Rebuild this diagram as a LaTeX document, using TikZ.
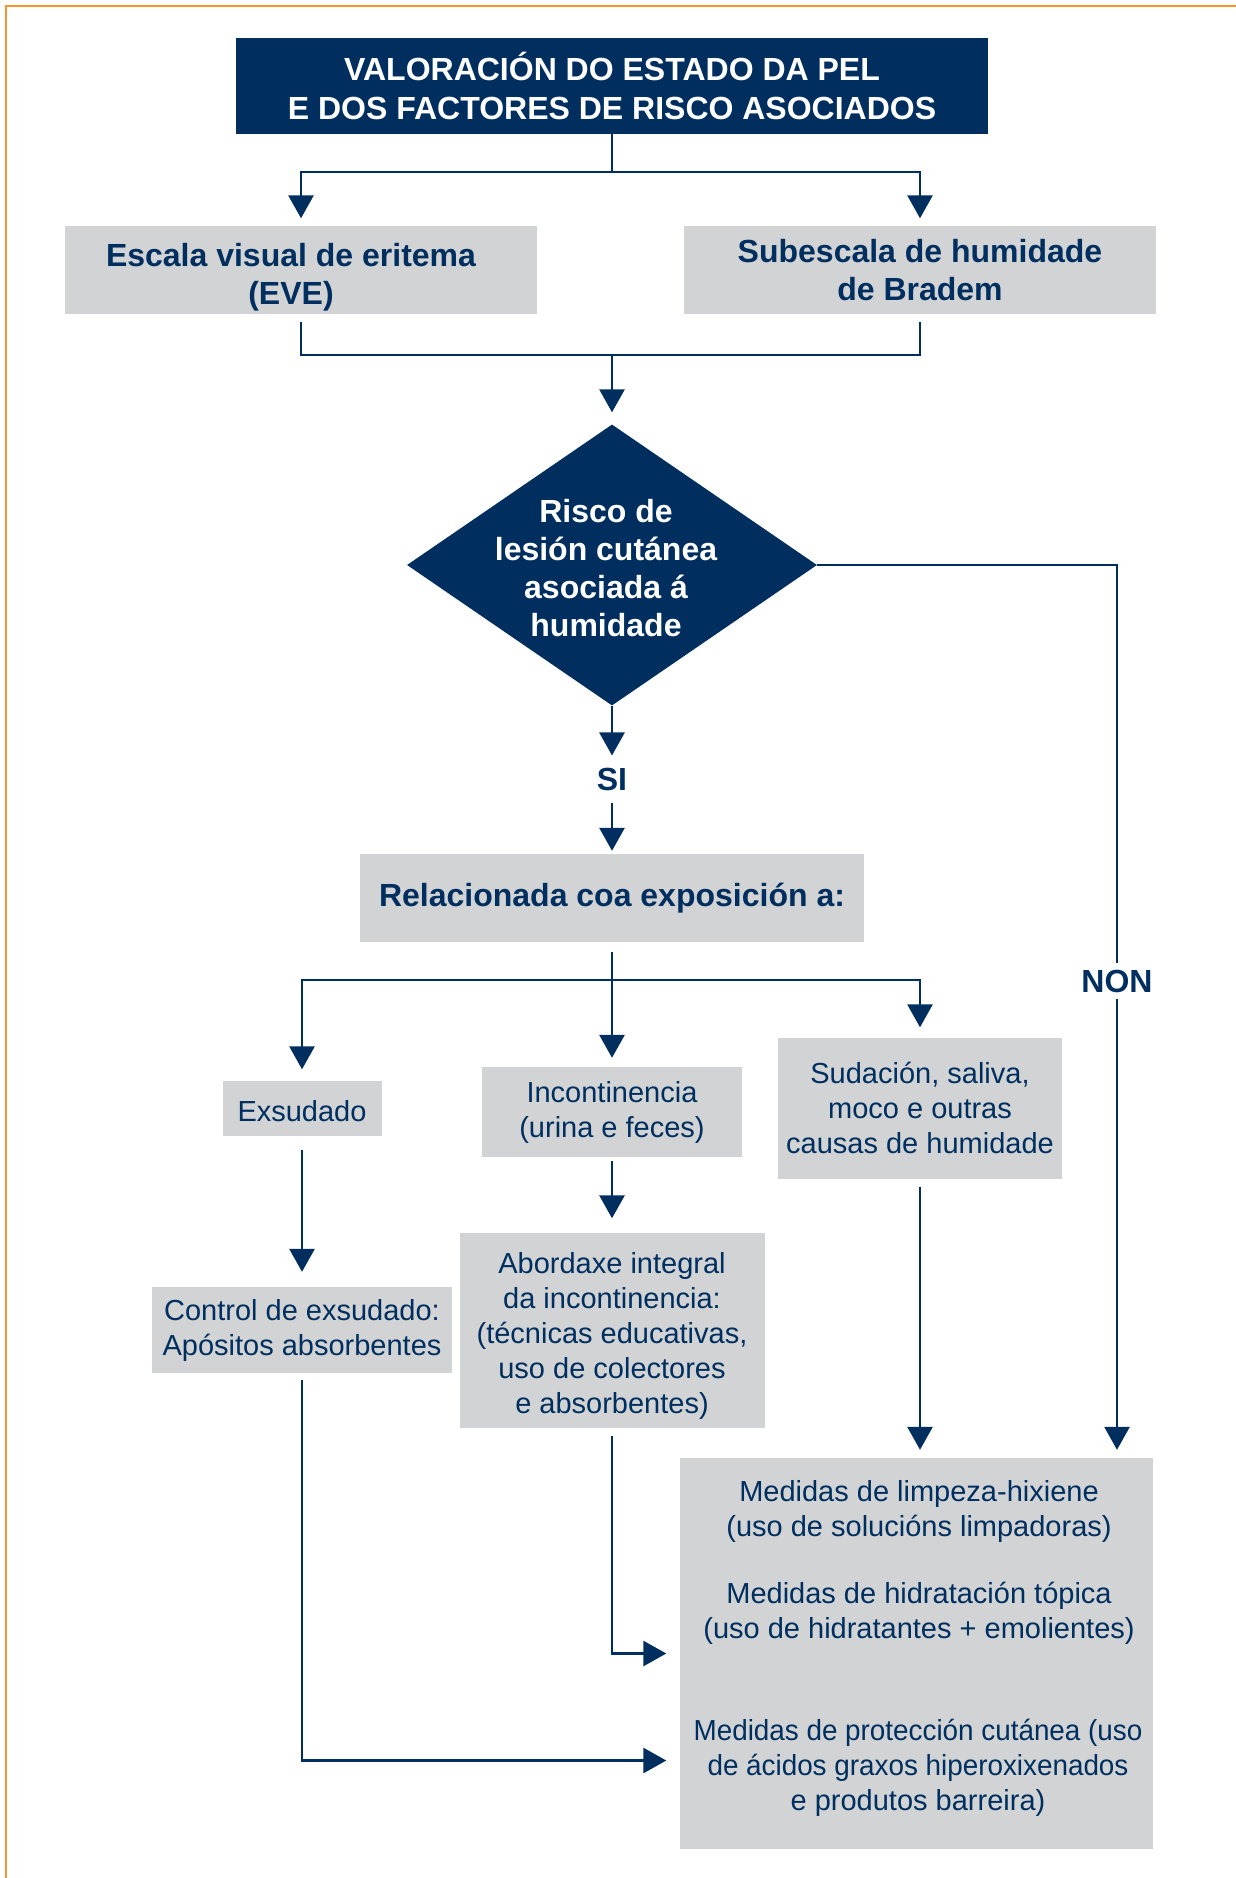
\documentclass[tikz,border=0pt]{standalone}
\usepackage{fontspec}
\setmainfont{Liberation Sans}
\newfontfamily\narrowfont{Liberation Sans}[FakeStretch=0.96]
\usetikzlibrary{arrows.meta,positioning,calc,shapes.geometric}
\definecolor{navy}{RGB}{0,47,95}
\definecolor{boxgray}{RGB}{209,211,212}
\definecolor{frameorange}{RGB}{247,148,45}

\begin{document}
\begin{tikzpicture}[x=1pt, y=-1pt,
      box/.style={fill=boxgray, text=navy, align=center, inner sep=0pt,
                  font=\fontsize{29}{35}\selectfont},
      hbox/.style={box, font=\fontsize{32}{38}\selectfont\bfseries},
      plain/.style={text=navy, align=center, inner sep=0pt, font=\fontsize{29}{35}\selectfont},
      bold/.style={text=navy, align=center, inner sep=0pt, font=\fontsize{32}{38}\selectfont\bfseries},
      answer/.style={text=navy, font=\fontsize{32}{38}\selectfont\bfseries},
      arr/.style={-{Triangle[width=25pt,length=23pt]}, line width=2.8pt, navy},
      link/.style={line width=2.8pt, navy}
    ]
      \useasboundingbox (0,0) rectangle (1235,1878);
      \draw[frameorange, line width=2.4pt] (6.2,1878) -- (6.2,6.2) -- (1240,6.2);

      % top of the chart
      \node[fill=navy, text=white, align=center, inner sep=0pt, minimum width=752pt, minimum height=96pt,
            font=\fontsize{32}{39.5}\selectfont\bfseries] (title) at (612,86)
        {VALORACIÓN DO ESTADO DA PEL\\E DOS FACTORES DE RISCO ASOCIADOS};
      \node[box, minimum width=472pt, minimum height=87pt] (eve) at (301,270) {};
      \node[bold] (evetext) at ([xshift=-10pt,yshift=-7pt]eve.center) {Escala visual de eritema\\(EVE)};
      \node[hbox, minimum width=472pt, minimum height=87pt] (bradem) at (920,270) {Subescala de humidade\\de Bradem};
      \coordinate (split) at (612,172);
      \coordinate (merge) at (612,355);
      \draw[link] (title.south) -- (split);
      \draw[arr, shorten >=8pt] (split) -| (eve.north);
      \draw[arr, shorten >=8pt] (split) -| (bradem.north);
      \draw[link] ([yshift=-8pt]eve.south) |- (merge) -| ([yshift=-8pt]bradem.south);

      % decision
      \node[diamond, fill=navy, minimum width=410pt, minimum height=281pt, inner sep=0pt] (risk) at (612,565) {};
      \node[text=white, align=center, font=\fontsize{32}{38}\selectfont\bfseries] (risktext)
        at ([xshift=-6pt,yshift=-3pt]risk.center) {Risco de\\lesión cutánea\\asociada á\\humidade};
      \draw[arr, shorten >=12pt] (merge) -- (risk.north);
      \node[answer, inner sep=12pt] (si) at (612,779) {SI};
      \node[answer, inner sep=6pt] (non) at (1117,981) {NON};

      \node[hbox, minimum width=504pt, minimum height=88pt] (rel) at (612,898) {Relacionada coa exposición a:};
      \draw[arr] (risk.south) -- (si.north);
      \draw[arr, shorten >=3pt] (si.south) -- (rel.north);

      % causes
      \node[box, minimum width=159pt, minimum height=55pt] (exs) at (302,1108) {};
      \node[plain] (exstext) at ([yshift=-3pt]exs.center) {Exsudado};
      \node[box, minimum width=260pt, minimum height=90pt] (incont) at (612,1112) {Incontinencia\\(urina e feces)};
      \node[box, minimum width=284pt, minimum height=141pt] (sud) at (920,1108) {Sudación, saliva,\\moco e outras\\causas de humidade};
      \coordinate (split2) at (612,980);
      \draw[link] ([yshift=-10pt]rel.south) -- (split2);
      \draw[arr, shorten >=11pt] (split2) -| (exs.north);
      \draw[arr, shorten >=9pt] (split2) -- (incont.north);
      \draw[arr, shorten >=10pt] (split2) -| (sud.north);

      % measures
      \node[box, minimum width=300pt, minimum height=86pt] (ctrl) at (302,1330) {Control de exsudado:\\Apósitos absorbentes};
      \node[box, minimum width=305pt, minimum height=195pt] (abord) at (612,1330) {};
      \node[plain] (abordtext) at ([yshift=-6pt]abord.center)
        {Abordaxe integral\\da incontinencia:\\(técnicas educativas,\\uso de colectores\\e absorbentes)};
      \node[box, minimum width=473pt, minimum height=391pt] (med) at (916,1653.5) {};
      \node[plain] (clean) at (919,1511) {Medidas de limpeza-hixiene\\(uso de solucións limpadoras)};
      \node[plain] (hydr) at (919,1613) {Medidas de hidratación tópica\\(uso de hidratantes + emolientes)};
      \node[plain] (protect) at (918,1768) {{\narrowfont Medidas de protección cutánea (uso}\\{\narrowfont de ácidos graxos hiperoxixenados}\\e produtos barreira)};

      \draw[arr, shorten <=14pt, shorten >=15pt] (exs.south) -- (ctrl.north);
      \draw[arr, shorten <=4pt, shorten >=14pt] (incont.south) -- (abord.north);
      \draw[arr, shorten <=8pt, shorten >=8pt] (sud.south) -- (sud.south |- med.north);
      \draw[arr, shorten <=8pt, shorten >=13pt] (abord.south) |- (med.west);
      \draw[arr, shorten <=7pt, shorten >=13pt] (ctrl.south) |- ([yshift=-107pt]med.west);
      \draw[link] (risk.east) -| (non.north);
      \draw[arr, shorten >=8pt] (non.south) -- (non |- med.north);
    \end{tikzpicture}
\end{document}
